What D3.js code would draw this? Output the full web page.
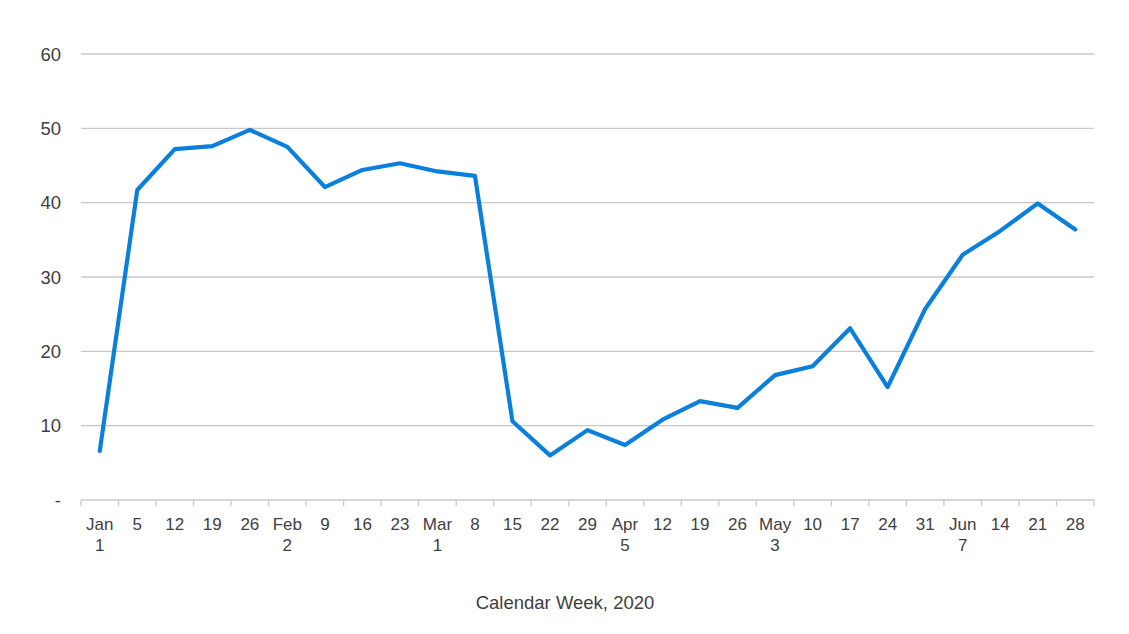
<!DOCTYPE html>
<html><head><meta charset="utf-8">
<script src="https://cdn.jsdelivr.net/npm/d3@7"></script>
<style>body{margin:0;background:#fff;} text{font-family:"Liberation Sans",Arial,sans-serif;}</style>
</head><body><svg id="c" width="1129" height="634"></svg>
<script>
const categories = ["Jan\n1","5","12","19","26","Feb\n2","9","16","23","Mar\n1","8","15","22","29","Apr\n5","12","19","26","May\n3","10","17","24","31","Jun\n7","14","21","28"];
const values = [6.6,41.7,47.2,47.6,49.8,47.5,42.1,44.4,45.3,44.2,43.6,10.6,6.0,9.4,7.4,10.8,13.3,12.4,16.8,18.0,23.1,15.2,25.7,33.0,36.2,39.9,36.4];
const yTicks = [0,10,20,30,40,50,60];
const xTitle = "Calendar Week, 2020";

const svg = d3.select("#c");
const L = 81, R = 1094, T = 54, B = 500;
const idx = categories.map((d,i)=>i);
const x = d3.scaleBand().domain(idx).range([L,R]);
const y = d3.scaleLinear().domain([0,60]).range([B,T]);
const txt = "#404040", grid = "#c8c8c8";

// gridlines
svg.append("g").selectAll("line").data(yTicks.filter(t=>t>0)).join("line")
  .attr("x1",L).attr("x2",R).attr("y1",d=>y(d)).attr("y2",d=>y(d))
  .attr("stroke",grid).attr("stroke-width",1.3);
// y labels
svg.append("g").selectAll("text").data(yTicks).join("text")
  .attr("x",61).attr("y",d=>y(d)+6.5).attr("text-anchor","end")
  .attr("font-size",18.5).attr("fill",txt).text(d=>d===0?"-":d);
// x axis line
svg.append("line").attr("x1",L).attr("x2",R).attr("y1",B).attr("y2",B).attr("stroke",grid).attr("stroke-width",1.3);
// ticks at band boundaries
const bounds = idx.map(i=>x(i)).concat([R]);
svg.append("g").selectAll("line").data(bounds).join("line")
  .attr("x1",d=>d).attr("x2",d=>d).attr("y1",B).attr("y2",B+6)
  .attr("stroke",grid).attr("stroke-width",1.3);
// x labels
const xl = svg.append("g").selectAll("text").data(idx).join("text")
  .attr("text-anchor","middle").attr("font-size",17).attr("fill",txt)
  .attr("transform",i=>`translate(${x(i)+x.bandwidth()/2},${B+30})`);
xl.each(function(i){
  const lines = categories[i].split("\n");
  d3.select(this).selectAll("tspan").data(lines).join("tspan")
    .attr("x",0).attr("dy",(d,k)=>k===0?0:21).text(d=>d);
});
// line
svg.append("path").datum(values)
  .attr("fill","none").attr("stroke","#0a7fdc").attr("stroke-width",4.2)
  .attr("stroke-linejoin","round").attr("stroke-linecap","round")
  .attr("d",d3.line().x((d,i)=>x(i)+x.bandwidth()/2).y(d=>y(d)));
// title
svg.append("text").attr("x",565).attr("y",609).attr("text-anchor","middle")
  .attr("font-size",18.5).attr("fill",txt).text(xTitle);
</script></body></html>
